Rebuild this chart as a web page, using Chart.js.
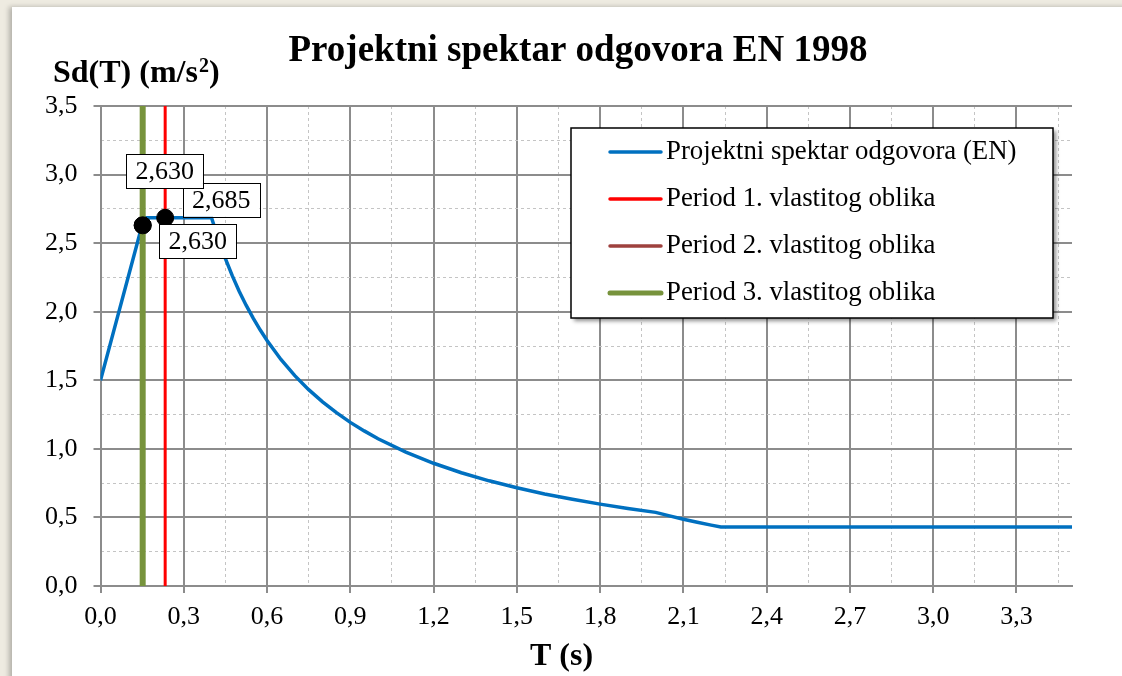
<!DOCTYPE html>
<html>
<head>
<meta charset="utf-8">
<title>Projektni spektar odgovora EN 1998</title>
<script src="https://cdn.jsdelivr.net/npm/chart.js@4.4.0/dist/chart.umd.min.js"></script>
<style>
    html, body {
        margin: 0;
        padding: 0;
        width: 1122px;
        height: 676px;
        overflow: hidden;
        background: #eeebe1;
    }
    .card {
        position: absolute;
        left: 12px;
        top: 7px;
        width: 1130px;
        height: 700px;
        background: #ffffff;
        box-shadow: -3px 0 5px rgba(0, 0, 0, 0.25);
    }
    #wrap {
        position: absolute;
        left: 0;
        top: 0;
        width: 1122px;
        height: 676px;
    }
</style>
</head>
<body>
<div class="card"></div>
<div id="wrap"><canvas id="chart" width="1122" height="676"></canvas></div>
<script>
// --- data ---
const chartTitle = "Projektni spektar odgovora EN 1998";
const yTitle = "Sd(T) (m/s";
const xTitle = "T (s)";

const seriesNames = [
    "Projektni spektar odgovora (EN)",
    "Period 1. vlastitog oblika",
    "Period 2. vlastitog oblika",
    "Period 3. vlastitog oblika",
];

// design spectrum, T (s) and Sd (m/s2)
const spectrumT = [0, 0.157, 0.40, 0.425, 0.45, 0.475, 0.50, 0.525, 0.55, 0.575, 0.60, 0.65, 0.70, 0.75, 0.80, 0.85, 0.90, 0.95, 1.00, 1.10, 1.20, 1.30, 1.40, 1.50, 1.60, 1.70, 1.80, 1.90, 2.00, 2.05, 2.10, 2.15, 2.20, 2.235, 3.50];
const spectrumSd = [1.500, 2.685, 2.685, 2.527, 2.387, 2.261, 2.148, 2.046, 1.953, 1.868, 1.790, 1.652, 1.534, 1.432, 1.343, 1.264, 1.193, 1.131, 1.074, 0.976, 0.895, 0.826, 0.767, 0.716, 0.671, 0.632, 0.597, 0.565, 0.537, 0.511, 0.487, 0.465, 0.444, 0.430, 0.430];

// periods of the mode shapes and their spectral values
const periodT = [0.233, 0.152, 0.152];
const periodSd = [2.685, 2.630, 2.630];

const xMin = 0, xMax = 3.5, xStep = 0.3, xMinorStep = 0.15;
const yMin = 0, yMax = 3.5, yStep = 0.5, yMinorStep = 0.25;

// --- styles ---
const serif = "'Liberation Serif', 'Times New Roman', serif";
const seriesColors = ["#0070C0", "#FF0000", "#9E413E", "#77933C"];
const seriesWidths = [3.5, 3, 3, 6];
const majorGrid = "#8c8c8c";
const minorGrid = "#c4c4c4";
// data label box centres, relative to their point (px)
const labelOffsets = [[56, -18], [55, 16], [22, -54]];

const fmt = (v, d) => Number(v).toFixed(d).replace(".", ",");

// keep only ticks that sit on a whole step (drops the max bound)
const onStep = (step) => (scale) => {
    scale.ticks = scale.ticks.filter((t) => Math.abs(t.value / step - Math.round(t.value / step)) < 1e-6);
};

const textPlugin = {
    id: "texts",
    afterDraw(chart) {
        const ctx = chart.ctx;
        ctx.save();
        ctx.fillStyle = "#000";
        ctx.textBaseline = "alphabetic";

        ctx.textAlign = "center";
        ctx.font = "bold 37px " + serif;
        ctx.fillText(chartTitle, 578, 61);

        // y title with superscript 2
        ctx.textAlign = "left";
        ctx.font = "bold 32px " + serif;
        let x = 53;
        ctx.fillText(yTitle, x, 82);
        x += ctx.measureText(yTitle).width;
        ctx.font = "bold 20px " + serif;
        ctx.fillText("2", x + 1, 72);
        x += ctx.measureText("2").width + 1;
        ctx.font = "bold 32px " + serif;
        ctx.fillText(")", x, 82);

        ctx.font = "bold 32px " + serif;
        ctx.fillText(xTitle, 530, 665);

        // legend box
        const lx = 571, ly = 128, lw = 482, lh = 190;
        ctx.save();
        ctx.shadowColor = "rgba(0,0,0,0.45)";
        ctx.shadowBlur = 4;
        ctx.shadowOffsetX = 3;
        ctx.shadowOffsetY = 3;
        ctx.fillStyle = "#fff";
        ctx.fillRect(lx, ly, lw, lh);
        ctx.restore();
        ctx.strokeStyle = "#000";
        ctx.lineWidth = 1.5;
        ctx.strokeRect(lx, ly, lw, lh);

        ctx.font = "26.8px " + serif;
        ctx.textBaseline = "middle";
        ctx.lineCap = "round";
        chart.data.datasets.forEach((ds, i) => {
            const yy = 152 + i * 47;
            ctx.strokeStyle = ds.borderColor;
            ctx.lineWidth = i === 3 ? 5 : 3.5;
            ctx.beginPath();
            ctx.moveTo(610, yy);
            ctx.lineTo(661, yy);
            ctx.stroke();
            ctx.fillStyle = "#000";
            ctx.fillText(ds.label, 666, yy);
        });
        ctx.restore();
    },
};

const labelPlugin = {
    id: "pointLabels",
    afterDatasetsDraw(chart) {
        const ctx = chart.ctx;
        const xs = chart.scales.x, ys = chart.scales.y;
        ctx.save();
        ctx.font = "26px " + serif;
        ctx.textAlign = "center";
        ctx.textBaseline = "middle";
        periodT.forEach((t, i) => {
            const px = xs.getPixelForValue(t) + labelOffsets[i][0];
            const py = ys.getPixelForValue(periodSd[i]) + labelOffsets[i][1];
            const text = fmt(periodSd[i], 3);
            const w = ctx.measureText(text).width + 18;
            const h = 34;
            ctx.fillStyle = "#fff";
            ctx.fillRect(px - w / 2, py - h / 2, w, h);
            ctx.strokeStyle = "#000";
            ctx.lineWidth = 1;
            ctx.strokeRect(Math.round(px - w / 2) + 0.5, Math.round(py - h / 2) + 0.5, Math.round(w), h);
            ctx.fillStyle = "#000";
            ctx.fillText(text, px, py + 1);
        });
        ctx.restore();
    },
};

const datasets = [{
    label: seriesNames[0],
    data: spectrumT.map((t, i) => ({ x: t, y: spectrumSd[i] })),
    borderColor: seriesColors[0],
    borderWidth: seriesWidths[0],
    pointRadius: 0,
    tension: 0,
    order: 4,
}];
periodT.forEach((t, i) => {
    datasets.push({
        label: seriesNames[i + 1],
        data: [{ x: t, y: yMin }, { x: t, y: periodSd[i] }, { x: t, y: yMax }],
        borderColor: seriesColors[i + 1],
        borderWidth: seriesWidths[i + 1],
        pointRadius: [0, 8.5, 0],
        pointBackgroundColor: "#000",
        pointBorderColor: "#000",
        pointBorderWidth: 1,
        order: 3 - i,
    });
});

const tickFont = { family: serif, size: 26 };

new Chart(document.getElementById("chart"), {
    type: "line",
    data: { datasets: datasets },
    plugins: [labelPlugin, textPlugin],
    options: {
        responsive: false,
        animation: false,
        layout: { padding: { left: 12, top: 106, right: 50, bottom: 0 } },
        plugins: {
            legend: { display: false },
            title: { display: false },
            tooltip: { enabled: false },
        },
        scales: {
            x: {
                type: "linear",
                position: "bottom",
                min: xMin,
                max: xMax,
                bounds: "data",
                ticks: {
                    stepSize: xStep,
                    autoSkip: false,
                    maxRotation: 0,
                    color: "#000",
                    font: tickFont,
                    padding: 9,
                    callback: (v) => fmt(v, 1),
                },
                grid: { color: majorGrid, lineWidth: 2, tickLength: 7, tickColor: majorGrid, tickWidth: 2 },
                border: { color: majorGrid, width: 2 },
                afterBuildTicks: onStep(xStep),
                afterFit: (s) => { s.height = 90; },
            },
            x2: {
                type: "linear",
                position: "bottom",
                min: xMin,
                max: xMax,
                bounds: "data",
                ticks: { stepSize: xMinorStep, display: false },
                grid: {
                    drawTicks: false,
                    lineWidth: 1,
                    color: (c) => Math.round(c.tick.value / xMinorStep) % 2 === 0 ? "rgba(0,0,0,0)" : minorGrid,
                },
                border: { display: false, dash: [3, 3] },
                afterBuildTicks: onStep(xMinorStep),
                afterFit: (s) => { s.height = 0; },
            },
            y: {
                type: "linear",
                position: "left",
                min: yMin,
                max: yMax,
                ticks: {
                    stepSize: yStep,
                    color: "#000",
                    font: tickFont,
                    padding: 16,
                    callback: (v) => fmt(v, 1),
                },
                grid: { color: majorGrid, lineWidth: 2, tickLength: 7, tickColor: majorGrid, tickWidth: 2 },
                border: { color: majorGrid, width: 2 },
                afterFit: (s) => { s.width = 88.5; },
            },
            y2: {
                type: "linear",
                position: "left",
                min: yMin,
                max: yMax,
                ticks: { stepSize: yMinorStep, display: false },
                grid: {
                    drawTicks: false,
                    lineWidth: 1,
                    color: (c) => Math.round(c.tick.value / yMinorStep) % 2 === 0 ? "rgba(0,0,0,0)" : minorGrid,
                },
                border: { display: false, dash: [3, 3] },
                afterFit: (s) => { s.width = 0; },
            },
        },
    },
});
</script>
</body>
</html>
